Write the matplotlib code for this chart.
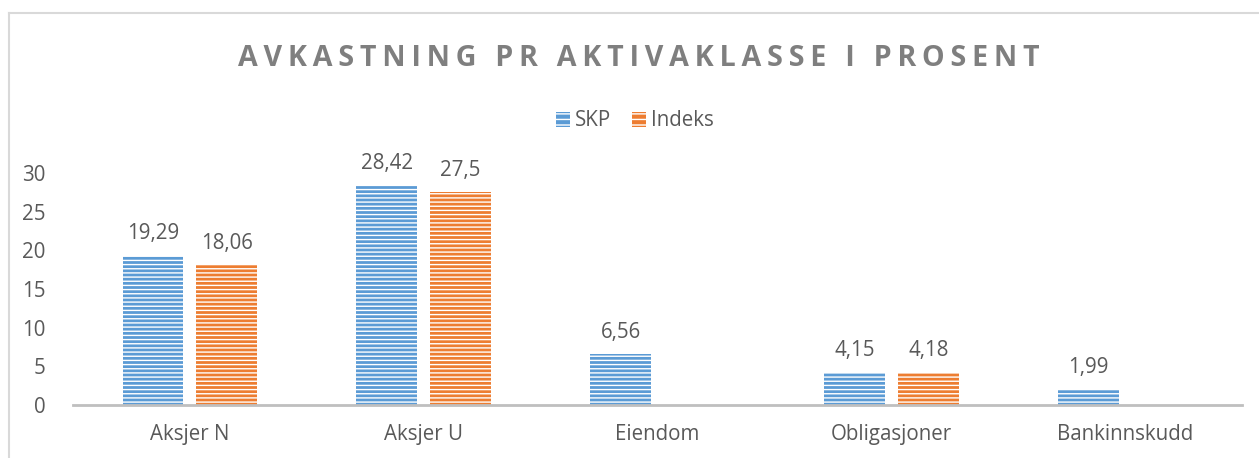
import matplotlib.pyplot as plt
import numpy as np
from matplotlib.lines import Line2D
from matplotlib.patches import Patch

# Data
categories = ['Aksjer N', 'Aksjer U', 'Eiendom', 'Obligasjoner', 'Bankinnskudd']
skp = [19.29, 28.42, 6.56, 4.15, 1.99]
indeks = [18.06, 27.5, None, 4.18, None]
series_names = ['SKP', 'Indeks']
y_ticks = [0, 5, 10, 15, 20, 25, 30]

blue = '#5B9BD5'
orange = '#ED7D31'
text_grey = '#595959'

plt.rcParams['font.family'] = ['Open Sans', 'DejaVu Sans']
plt.rcParams['hatch.linewidth'] = 1.0

W, H = 1259, 458
fig = plt.figure(figsize=(W / 100, H / 100), dpi=100)

# axes placed in pixel terms
left, right, bottom, top = 73, 1242, 405, 173
ax = fig.add_axes([left / W, 1 - bottom / H, (right - left) / W, (bottom - top) / H])

x = np.arange(len(categories))
width = 0.26
offset = 0.158
fs = 14.8


def fmt(v):
    return ('%g' % v).replace('.', ',')


for vals, color, dx in [(skp, blue, -offset), (indeks, orange, offset)]:
    for xi, v in zip(x, vals):
        if v is None:
            continue
        ax.bar(xi + dx, v, width, color=color, edgecolor='white', linewidth=0,
               hatch='----')
        ax.text(xi + dx, v + 1.5, fmt(v), ha='center', va='bottom',
                fontsize=fs, color=text_grey, clip_on=False)

ax.set_xlim(-0.5, len(categories) - 0.5)
ax.set_ylim(0, 30)
ax.set_yticks(y_ticks)
ax.set_yticklabels([str(t) for t in y_ticks], fontsize=fs, color=text_grey)
ax.set_xticks(x)
ax.set_xticklabels(categories, fontsize=fs, color=text_grey)
ax.tick_params(axis='both', length=0)
ax.tick_params(axis='y', pad=20)
ax.tick_params(axis='x', pad=14)
for s in ['top', 'right', 'left']:
    ax.spines[s].set_visible(False)
ax.spines['bottom'].set_color('#BFBFBF')
ax.spines['bottom'].set_linewidth(2)
ax.set_facecolor('none')

# legend
handles = [Patch(facecolor=blue, edgecolor='white', hatch='---', linewidth=0),
           Patch(facecolor=orange, edgecolor='white', hatch='---', linewidth=0)]
fig.legend(handles, series_names, loc='center', bbox_to_anchor=(635 / W, 1 - 121 / H),
           ncol=2, frameon=False, fontsize=fs, labelcolor=text_grey,
           handlelength=0.7, handleheight=0.7, handletextpad=0.25, columnspacing=1.0)

# title with letter spacing
title = 'AVKASTNING PR AKTIVAKLASSE I PROSENT'
spaced = '\u2009'.join(title)
fig.text(639 / W, 1 - 58 / H, spaced, ha='center', va='center', fontsize=20.6,
         fontweight='bold', color='#7F7F7F')

# chart frame (left and top edge visible)
fig.add_artist(Line2D([9 / W, 9 / W], [0, 1 - 13 / H], transform=fig.transFigure,
                      color='#D9D9D9', linewidth=1.5))
fig.add_artist(Line2D([9 / W, 1], [1 - 13 / H, 1 - 13 / H], transform=fig.transFigure,
                      color='#D9D9D9', linewidth=1.5))

fig.savefig('out.png', dpi=100)
